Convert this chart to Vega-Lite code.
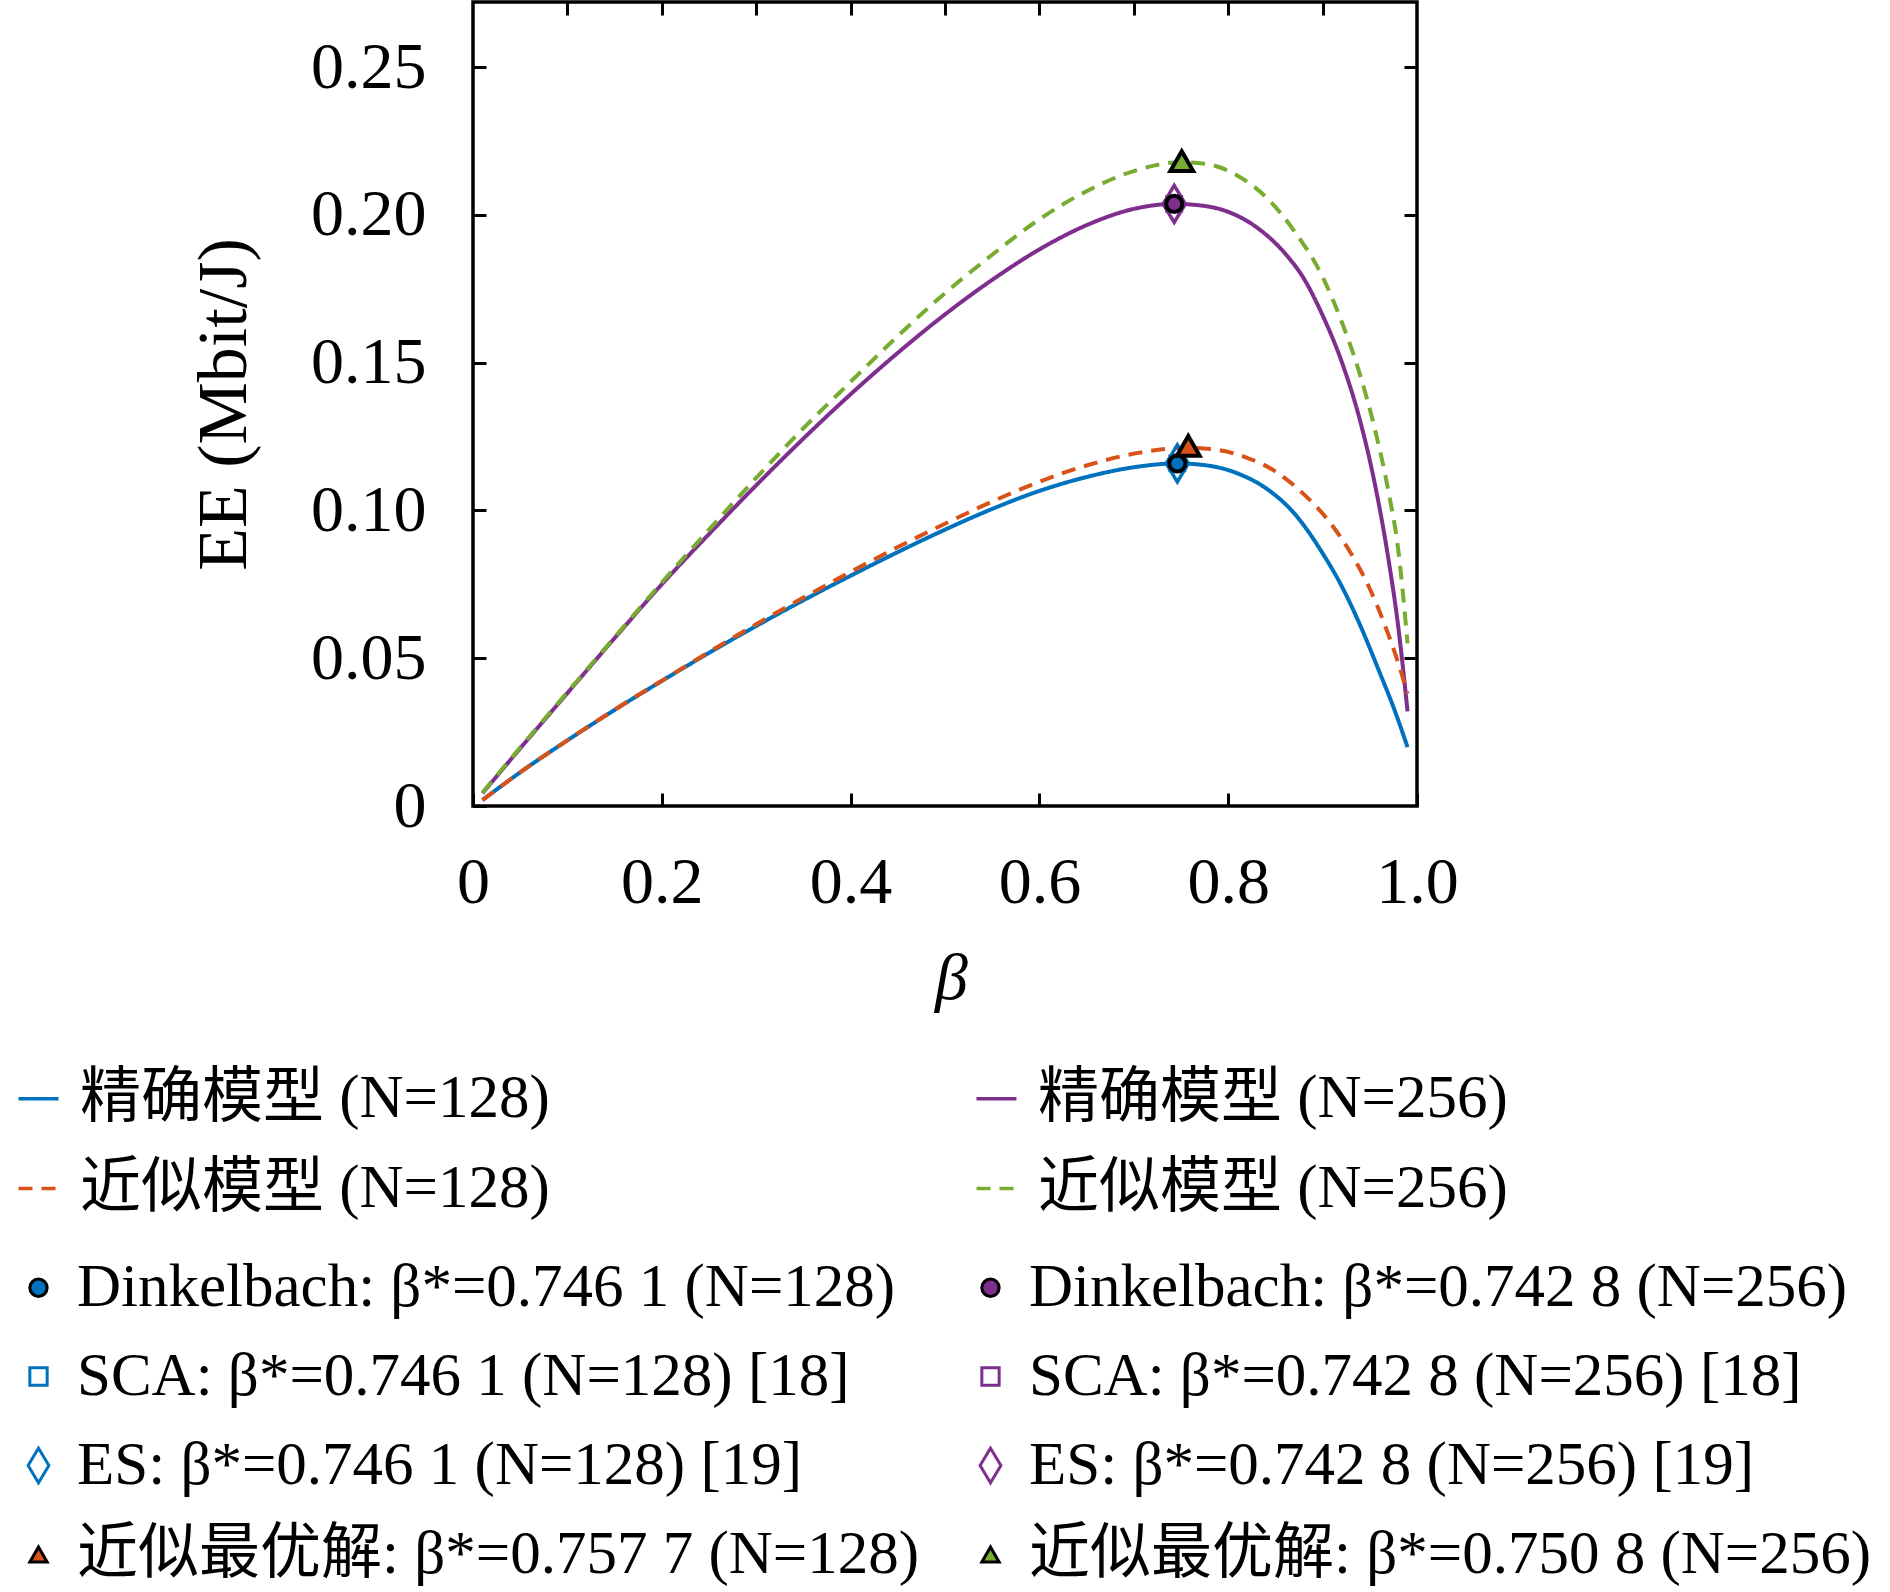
{
  "$schema": "https://vega.github.io/schema/vega-lite/v6.json",
  "width": 944,
  "height": 804,
  "autosize": {"type": "none"},
  "padding": {"left": 473, "top": 2, "right": 473, "bottom": 786},
  "config": {
    "view": {"stroke": "black", "strokeWidth": 3.5},
    "font": "Liberation Serif, Noto Sans CJK SC",
    "axis": {
      "domain": false,
      "grid": false,
      "labelFont": "Liberation Serif",
      "labelFontSize": 66,
      "labelColor": "black",
      "tickColor": "black",
      "tickWidth": 3,
      "tickSize": -13,
      "titleFont": "Liberation Serif",
      "titleColor": "black",
      "titleFontWeight": "normal",
      "labelFlush": false,
      "labelOverlap": false
    },
    "legend": {
      "labelFont": "Liberation Serif, Noto Sans CJK SC",
      "labelFontSize": 61,
      "labelColor": "black",
      "labelLimit": 0,
      "padding": 0
    }
  },
  "datasets": {
    "lines": [
      {"series": "精确模型 (N=128)", "beta": 0.01, "ee": 0.002},
      {"series": "精确模型 (N=128)", "beta": 0.05, "ee": 0.0114},
      {"series": "精确模型 (N=128)", "beta": 0.1, "ee": 0.0222},
      {"series": "精确模型 (N=128)", "beta": 0.15, "ee": 0.0325},
      {"series": "精确模型 (N=128)", "beta": 0.2, "ee": 0.0423},
      {"series": "精确模型 (N=128)", "beta": 0.25, "ee": 0.0518},
      {"series": "精确模型 (N=128)", "beta": 0.3, "ee": 0.0609},
      {"series": "精确模型 (N=128)", "beta": 0.35, "ee": 0.0696},
      {"series": "精确模型 (N=128)", "beta": 0.4, "ee": 0.0779},
      {"series": "精确模型 (N=128)", "beta": 0.45, "ee": 0.0859},
      {"series": "精确模型 (N=128)", "beta": 0.5, "ee": 0.0935},
      {"series": "精确模型 (N=128)", "beta": 0.55, "ee": 0.1005},
      {"series": "精确模型 (N=128)", "beta": 0.6, "ee": 0.1066},
      {"series": "精确模型 (N=128)", "beta": 0.65, "ee": 0.1113},
      {"series": "精确模型 (N=128)", "beta": 0.7, "ee": 0.1146},
      {"series": "精确模型 (N=128)", "beta": 0.7461, "ee": 0.1159},
      {"series": "精确模型 (N=128)", "beta": 0.78, "ee": 0.1151},
      {"series": "精确模型 (N=128)", "beta": 0.81, "ee": 0.1125},
      {"series": "精确模型 (N=128)", "beta": 0.84, "ee": 0.1075},
      {"series": "精确模型 (N=128)", "beta": 0.87, "ee": 0.099},
      {"series": "精确模型 (N=128)", "beta": 0.9, "ee": 0.0855},
      {"series": "精确模型 (N=128)", "beta": 0.92, "ee": 0.0745},
      {"series": "精确模型 (N=128)", "beta": 0.94, "ee": 0.061},
      {"series": "精确模型 (N=128)", "beta": 0.96, "ee": 0.0455},
      {"series": "精确模型 (N=128)", "beta": 0.975, "ee": 0.0335},
      {"series": "精确模型 (N=128)", "beta": 0.99, "ee": 0.0199},

      {"series": "精确模型 (N=256)", "beta": 0.01, "ee": 0.0043},
      {"series": "精确模型 (N=256)", "beta": 0.05, "ee": 0.0195},
      {"series": "精确模型 (N=256)", "beta": 0.1, "ee": 0.0382},
      {"series": "精确模型 (N=256)", "beta": 0.15, "ee": 0.0568},
      {"series": "精确模型 (N=256)", "beta": 0.2, "ee": 0.075},
      {"series": "精确模型 (N=256)", "beta": 0.25, "ee": 0.092},
      {"series": "精确模型 (N=256)", "beta": 0.3, "ee": 0.1085},
      {"series": "精确模型 (N=256)", "beta": 0.35, "ee": 0.1243},
      {"series": "精确模型 (N=256)", "beta": 0.4, "ee": 0.1393},
      {"series": "精确模型 (N=256)", "beta": 0.45, "ee": 0.1533},
      {"series": "精确模型 (N=256)", "beta": 0.5, "ee": 0.1663},
      {"series": "精确模型 (N=256)", "beta": 0.55, "ee": 0.178},
      {"series": "精确模型 (N=256)", "beta": 0.6, "ee": 0.1883},
      {"series": "精确模型 (N=256)", "beta": 0.65, "ee": 0.1965},
      {"series": "精确模型 (N=256)", "beta": 0.7, "ee": 0.202},
      {"series": "精确模型 (N=256)", "beta": 0.7428, "ee": 0.2037},
      {"series": "精确模型 (N=256)", "beta": 0.77, "ee": 0.2032},
      {"series": "精确模型 (N=256)", "beta": 0.8, "ee": 0.201},
      {"series": "精确模型 (N=256)", "beta": 0.83, "ee": 0.1958},
      {"series": "精确模型 (N=256)", "beta": 0.86, "ee": 0.187},
      {"series": "精确模型 (N=256)", "beta": 0.88, "ee": 0.1785},
      {"series": "精确模型 (N=256)", "beta": 0.9, "ee": 0.166},
      {"series": "精确模型 (N=256)", "beta": 0.92, "ee": 0.1505},
      {"series": "精确模型 (N=256)", "beta": 0.94, "ee": 0.13},
      {"series": "精确模型 (N=256)", "beta": 0.955, "ee": 0.1095},
      {"series": "精确模型 (N=256)", "beta": 0.97, "ee": 0.083},
      {"series": "精确模型 (N=256)", "beta": 0.98, "ee": 0.061},
      {"series": "精确模型 (N=256)", "beta": 0.99, "ee": 0.032},

      {"series": "近似模型 (N=128)", "beta": 0.01, "ee": 0.002},
      {"series": "近似模型 (N=128)", "beta": 0.05, "ee": 0.0114},
      {"series": "近似模型 (N=128)", "beta": 0.1, "ee": 0.0222},
      {"series": "近似模型 (N=128)", "beta": 0.15, "ee": 0.0326},
      {"series": "近似模型 (N=128)", "beta": 0.2, "ee": 0.0424},
      {"series": "近似模型 (N=128)", "beta": 0.25, "ee": 0.0521},
      {"series": "近似模型 (N=128)", "beta": 0.3, "ee": 0.0615},
      {"series": "近似模型 (N=128)", "beta": 0.35, "ee": 0.0705},
      {"series": "近似模型 (N=128)", "beta": 0.4, "ee": 0.0792},
      {"series": "近似模型 (N=128)", "beta": 0.45, "ee": 0.0876},
      {"series": "近似模型 (N=128)", "beta": 0.5, "ee": 0.0955},
      {"series": "近似模型 (N=128)", "beta": 0.55, "ee": 0.103},
      {"series": "近似模型 (N=128)", "beta": 0.6, "ee": 0.1097},
      {"series": "近似模型 (N=128)", "beta": 0.65, "ee": 0.1152},
      {"series": "近似模型 (N=128)", "beta": 0.7, "ee": 0.1192},
      {"series": "近似模型 (N=128)", "beta": 0.7577, "ee": 0.1212},
      {"series": "近似模型 (N=128)", "beta": 0.79, "ee": 0.1204},
      {"series": "近似模型 (N=128)", "beta": 0.82, "ee": 0.1178},
      {"series": "近似模型 (N=128)", "beta": 0.85, "ee": 0.1132},
      {"series": "近似模型 (N=128)", "beta": 0.88, "ee": 0.1055},
      {"series": "近似模型 (N=128)", "beta": 0.91, "ee": 0.095},
      {"series": "近似模型 (N=128)", "beta": 0.93, "ee": 0.0855},
      {"series": "近似模型 (N=128)", "beta": 0.95, "ee": 0.0735},
      {"series": "近似模型 (N=128)", "beta": 0.965, "ee": 0.062},
      {"series": "近似模型 (N=128)", "beta": 0.98, "ee": 0.0485},
      {"series": "近似模型 (N=128)", "beta": 0.99, "ee": 0.038},

      {"series": "近似模型 (N=256)", "beta": 0.01, "ee": 0.0045},
      {"series": "近似模型 (N=256)", "beta": 0.05, "ee": 0.0198},
      {"series": "近似模型 (N=256)", "beta": 0.1, "ee": 0.0385},
      {"series": "近似模型 (N=256)", "beta": 0.15, "ee": 0.0571},
      {"series": "近似模型 (N=256)", "beta": 0.2, "ee": 0.0756},
      {"series": "近似模型 (N=256)", "beta": 0.25, "ee": 0.0935},
      {"series": "近似模型 (N=256)", "beta": 0.3, "ee": 0.111},
      {"series": "近似模型 (N=256)", "beta": 0.35, "ee": 0.1278},
      {"series": "近似模型 (N=256)", "beta": 0.4, "ee": 0.1435},
      {"series": "近似模型 (N=256)", "beta": 0.45, "ee": 0.159},
      {"series": "近似模型 (N=256)", "beta": 0.5, "ee": 0.1735},
      {"series": "近似模型 (N=256)", "beta": 0.55, "ee": 0.1865},
      {"series": "近似模型 (N=256)", "beta": 0.6, "ee": 0.1985},
      {"series": "近似模型 (N=256)", "beta": 0.65, "ee": 0.208},
      {"series": "近似模型 (N=256)", "beta": 0.7, "ee": 0.2148},
      {"series": "近似模型 (N=256)", "beta": 0.7508, "ee": 0.2178},
      {"series": "近似模型 (N=256)", "beta": 0.78, "ee": 0.217},
      {"series": "近似模型 (N=256)", "beta": 0.81, "ee": 0.2132},
      {"series": "近似模型 (N=256)", "beta": 0.84, "ee": 0.206},
      {"series": "近似模型 (N=256)", "beta": 0.87, "ee": 0.1945},
      {"series": "近似模型 (N=256)", "beta": 0.9, "ee": 0.179},
      {"series": "近似模型 (N=256)", "beta": 0.92, "ee": 0.164},
      {"series": "近似模型 (N=256)", "beta": 0.94, "ee": 0.1455},
      {"series": "近似模型 (N=256)", "beta": 0.955, "ee": 0.128},
      {"series": "近似模型 (N=256)", "beta": 0.97, "ee": 0.106},
      {"series": "近似模型 (N=256)", "beta": 0.98, "ee": 0.087},
      {"series": "近似模型 (N=256)", "beta": 0.99, "ee": 0.055}
    ],
    "optima": [
      {"series": "ES: β*=0.746 1 (N=128) [19]", "beta": 0.7461, "ee": 0.1159},
      {"series": "ES: β*=0.742 8 (N=256) [19]", "beta": 0.7428, "ee": 0.2037},
      {"series": "SCA: β*=0.746 1 (N=128) [18]", "beta": 0.7461, "ee": 0.1159},
      {"series": "SCA: β*=0.742 8 (N=256) [18]", "beta": 0.7428, "ee": 0.2037},
      {"series": "Dinkelbach: β*=0.746 1 (N=128)", "beta": 0.7461, "ee": 0.1159},
      {"series": "Dinkelbach: β*=0.742 8 (N=256)", "beta": 0.7428, "ee": 0.2037},
      {"series": "近似最优解: β*=0.757 7 (N=128)", "beta": 0.7577, "ee": 0.1218},
      {"series": "近似最优解: β*=0.750 8 (N=256)", "beta": 0.7508, "ee": 0.2182}
    ]
  },
  "layer": [
    {
      "layer": [
        {
          "data": {"name": "lines"},
          "mark": {"type": "line", "strokeWidth": 4, "interpolate": "monotone"},
          "encoding": {
            "x": {
              "field": "beta",
              "type": "quantitative",
              "scale": {"domain": [0, 1], "nice": false, "zero": false},
              "axis": {
                "orient": "bottom",
                "values": [0, 0.2, 0.4, 0.6, 0.8, 1],
                "labelExpr": "datum.value == 0 ? '0' : format(datum.value, '.1f')",
                "labelBaseline": "middle",
                "labelPadding": 89,
                "title": "β",
                "titleFontSize": 66,
                "titleFontStyle": "italic",
                "titleX": 478,
                "titleY": 172,
                "titleBaseline": "middle"
              }
            },
            "y": {
              "field": "ee",
              "type": "quantitative",
              "scale": {"domain": [0, 0.272], "nice": false, "zero": true},
              "axis": {
                "orient": "left",
                "values": [0, 0.05, 0.1, 0.15, 0.2, 0.25],
                "labelExpr": "datum.value == 0 ? '0' : format(datum.value, '.2f')",
                "labelPadding": 60,
                "title": "EE (Mbit/J)",
                "titleFontSize": 70,
                "titleX": -249,
                "titleY": 402,
                "titleAngle": -90,
                "titleAlign": "center",
                "titleBaseline": "middle"
              }
            },
            "color": {
              "field": "series",
              "type": "nominal",
              "sort": null,
              "scale": {
                "domain": ["精确模型 (N=128)", "精确模型 (N=256)", "近似模型 (N=128)", "近似模型 (N=256)"],
                "range": ["#0072BD", "#7E2F8E", "#D95319", "#77AC30"]
              },
              "legend": {"title": null, "orient": "none", "legendX": -465, "legendY": 1066, "direction": "horizontal", "columns": 2, "symbolSize": 1600, "symbolStrokeWidth": 3.5, "labelOffset": 11, "rowPadding": 28, "columnPadding": 416}
            },
            "strokeDash": {
              "field": "series",
              "type": "nominal",
              "sort": null,
              "scale": {
                "domain": ["精确模型 (N=128)", "精确模型 (N=256)", "近似模型 (N=128)", "近似模型 (N=256)"],
                "range": [[1, 0], [1, 0], [14, 9], [14, 9]]
              },
              "legend": {"title": null, "orient": "none", "legendX": -465, "legendY": 1066, "direction": "horizontal", "columns": 2, "symbolSize": 1600, "symbolStrokeWidth": 3.5, "labelOffset": 11, "rowPadding": 28, "columnPadding": 416}
            }
          }
        },
        {
          "data": {"name": "optima"},
          "transform": [{"filter": {"field": "series", "oneOf": ["ES: β*=0.746 1 (N=128) [19]", "ES: β*=0.742 8 (N=256) [19]"]}}],
          "mark": {"type": "point", "size": 342, "strokeWidth": 3.5, "opacity": 1},
          "encoding": {
            "x": {"field": "beta", "type": "quantitative"},
            "y": {"field": "ee", "type": "quantitative"},
            "stroke": {
              "field": "series",
              "type": "nominal",
              "sort": null,
              "scale": {
                "domain": ["Dinkelbach: β*=0.746 1 (N=128)", "Dinkelbach: β*=0.742 8 (N=256)", "SCA: β*=0.746 1 (N=128) [18]", "SCA: β*=0.742 8 (N=256) [18]", "ES: β*=0.746 1 (N=128) [19]", "ES: β*=0.742 8 (N=256) [19]", "近似最优解: β*=0.757 7 (N=128)", "近似最优解: β*=0.750 8 (N=256)"],
                "range": ["black", "black", "#0072BD", "#7E2F8E", "#0072BD", "#7E2F8E", "black", "black"]
              },
              "legend": {"title": null, "orient": "none", "legendX": -465, "legendY": 1255, "direction": "horizontal", "columns": 2, "symbolSize": 300, "symbolStrokeWidth": 3, "labelOffset": 8, "rowPadding": 27, "columnPadding": 41}
            },
            "fill": {
              "field": "series",
              "type": "nominal",
              "sort": null,
              "scale": {
                "domain": ["Dinkelbach: β*=0.746 1 (N=128)", "Dinkelbach: β*=0.742 8 (N=256)", "SCA: β*=0.746 1 (N=128) [18]", "SCA: β*=0.742 8 (N=256) [18]", "ES: β*=0.746 1 (N=128) [19]", "ES: β*=0.742 8 (N=256) [19]", "近似最优解: β*=0.757 7 (N=128)", "近似最优解: β*=0.750 8 (N=256)"],
                "range": ["#0072BD", "#7E2F8E", "transparent", "transparent", "transparent", "transparent", "#D95319", "#77AC30"]
              },
              "legend": {"title": null, "orient": "none", "legendX": -465, "legendY": 1255, "direction": "horizontal", "columns": 2, "symbolSize": 300, "symbolStrokeWidth": 3, "labelOffset": 8, "rowPadding": 27, "columnPadding": 41}
            },
            "shape": {
              "field": "series",
              "type": "nominal",
              "sort": null,
              "scale": {
                "domain": ["Dinkelbach: β*=0.746 1 (N=128)", "Dinkelbach: β*=0.742 8 (N=256)", "SCA: β*=0.746 1 (N=128) [18]", "SCA: β*=0.742 8 (N=256) [18]", "ES: β*=0.746 1 (N=128) [19]", "ES: β*=0.742 8 (N=256) [19]", "近似最优解: β*=0.757 7 (N=128)", "近似最优解: β*=0.750 8 (N=256)"],
                "range": ["circle", "circle", "square", "square", "M0,-2L1.2,0L0,2L-1.2,0Z", "M0,-2L1.2,0L0,2L-1.2,0Z", "triangle-up", "triangle-up"]
              },
              "legend": {"title": null, "orient": "none", "legendX": -465, "legendY": 1255, "direction": "horizontal", "columns": 2, "symbolSize": 300, "symbolStrokeWidth": 3, "labelOffset": 8, "rowPadding": 27, "columnPadding": 41}
            }
          }
        },
        {
          "data": {"name": "optima"},
          "transform": [{"filter": {"field": "series", "oneOf": ["SCA: β*=0.746 1 (N=128) [18]", "SCA: β*=0.742 8 (N=256) [18]"]}}],
          "mark": {"type": "point", "size": 220, "strokeWidth": 3, "opacity": 1},
          "encoding": {
            "x": {"field": "beta", "type": "quantitative"},
            "y": {"field": "ee", "type": "quantitative"},
            "stroke": {"field": "series", "type": "nominal", "sort": null},
            "fill": {"field": "series", "type": "nominal", "sort": null},
            "shape": {"field": "series", "type": "nominal", "sort": null}
          }
        },
        {
          "data": {"name": "optima"},
          "transform": [{"filter": {"field": "series", "oneOf": ["Dinkelbach: β*=0.746 1 (N=128)", "Dinkelbach: β*=0.742 8 (N=256)"]}}],
          "mark": {"type": "point", "size": 260, "strokeWidth": 4, "opacity": 1},
          "encoding": {
            "x": {"field": "beta", "type": "quantitative"},
            "y": {"field": "ee", "type": "quantitative"},
            "stroke": {"field": "series", "type": "nominal", "sort": null},
            "fill": {"field": "series", "type": "nominal", "sort": null},
            "shape": {"field": "series", "type": "nominal", "sort": null}
          }
        },
        {
          "data": {"name": "optima"},
          "transform": [{"filter": {"field": "series", "oneOf": ["近似最优解: β*=0.757 7 (N=128)", "近似最优解: β*=0.750 8 (N=256)"]}}],
          "mark": {"type": "point", "size": 520, "strokeWidth": 4, "opacity": 1},
          "encoding": {
            "x": {"field": "beta", "type": "quantitative"},
            "y": {"field": "ee", "type": "quantitative"},
            "stroke": {"field": "series", "type": "nominal", "sort": null},
            "fill": {"field": "series", "type": "nominal", "sort": null},
            "shape": {"field": "series", "type": "nominal", "sort": null}
          }
        }
      ]
    },
    {
      "data": {"name": "lines"},
      "mark": {"type": "point", "opacity": 0},
      "encoding": {
        "x": {
          "field": "beta",
          "type": "quantitative",
          "scale": {"domain": [0, 1], "nice": false, "zero": false},
          "axis": {"orient": "top", "values": [0.1, 0.2, 0.3, 0.4, 0.5, 0.6, 0.7, 0.8, 0.9], "labels": false, "title": null}
        },
        "y": {
          "field": "ee",
          "type": "quantitative",
          "scale": {"domain": [0, 0.272], "nice": false, "zero": true},
          "axis": {"orient": "right", "values": [0.05, 0.1, 0.15, 0.2, 0.25], "labels": false, "title": null}
        }
      }
    }
  ],
  "resolve": {"scale": {"x": "independent", "y": "independent"}}
}
